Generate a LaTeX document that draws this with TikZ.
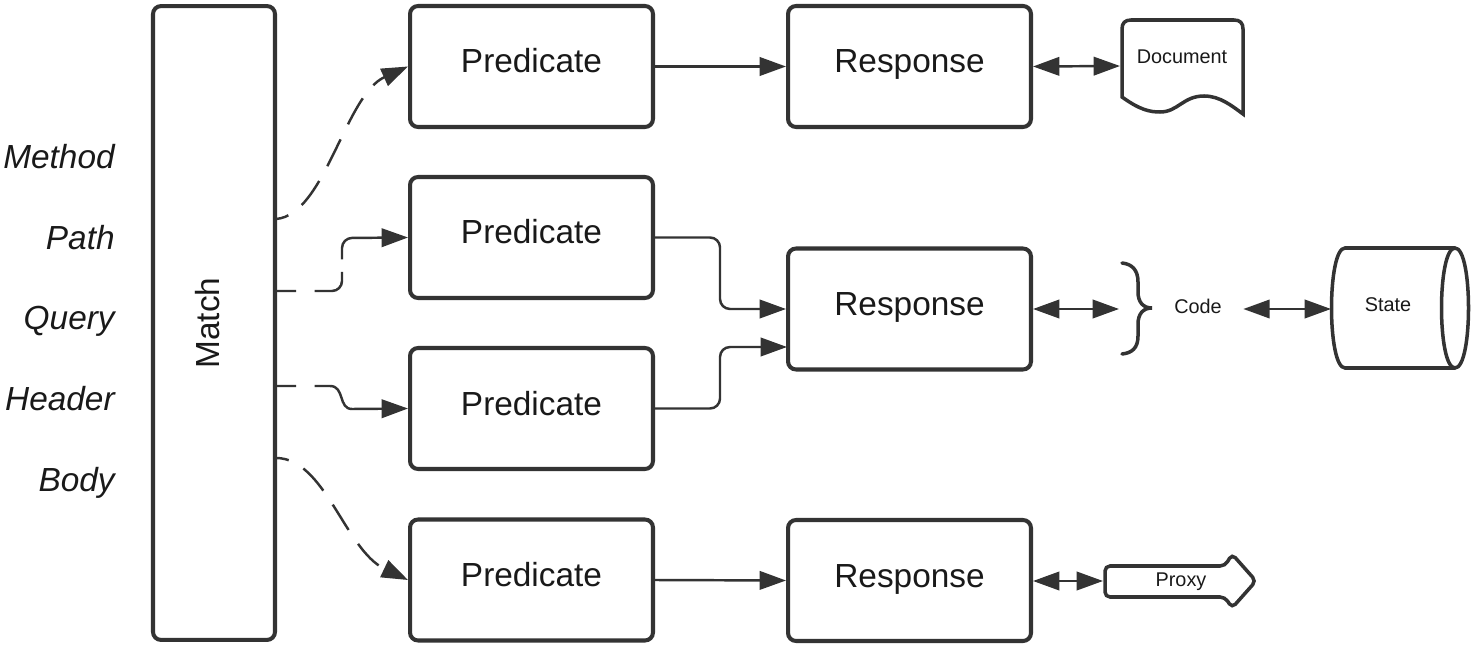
\documentclass[tikz,border=0pt]{standalone}
\usepackage{fontspec}
\setmainfont{Liberation Sans}
\usetikzlibrary{arrows.meta}
\definecolor{dark}{HTML}{333333}

\begin{document}
\begin{tikzpicture}[x=0.02cm, y=-0.02cm,
    box/.style={draw=dark, line width=2.3pt, rounded corners=0.16cm, text=black!90,
        minimum width=4.86cm, minimum height=2.42cm, inner sep=0pt,
        font=\fontsize{19}{22}\selectfont, text height=11pt, text depth=3.6pt},
    small/.style={text=black!90, inner sep=0pt, font=\fontsize{11.3}{13}\selectfont},
    side/.style={anchor=base east, inner sep=0pt, text=black!90,
        font=\fontsize{19}{22}\selectfont\itshape},
    outline/.style={draw=dark, line width=2pt},
    arr/.style={draw=dark, line width=1.4pt, -{Triangle[length=15pt, width=10.5pt]}},
    dbl/.style={draw=dark, line width=1.4pt, {Triangle[length=15pt, width=10.5pt]}-{Triangle[length=15pt, width=10.5pt]}},
    dash1/.style={dash pattern=on 17pt off 9.6pt, dash phase=9.6pt}]
    \useasboundingbox (0,0) rectangle (1476,648);

    % Left labels
    \foreach \lab/\ypos in {Method/169, Path/250, Query/329, Header/410, Body/491}
        \node[side] (\lab) at (115,\ypos) {\lab};

    % Match
    \node[box, minimum width=2.44cm, minimum height=12.68cm] (match) at (214,323) {};
    \node[rotate=90, inner sep=0pt, text=black!90, font=\fontsize{19}{22}\selectfont] (matchtext) at (208,323) {Match};

    % Predicates and responses
    \node[box] (pred1) at (531.5,66.5) {Predicate};
    \node[box] (pred2) at (531.5,237.5) {Predicate};
    \node[box] (pred3) at (531.5,408.5) {Predicate};
    \node[box] (pred4) at (531.5,580) {Predicate};
    \node[box] (resp1) at (909.5,66.5) {Response};
    \node[box] (resp2) at (909.5,309) {Response};
    \node[box] (resp4) at (909.5,580.5) {Response};

    % Free ends
    \coordinate (m1) at (276,219);
    \coordinate (m2) at (276,291);
    \coordinate (m3) at (276,386);
    \coordinate (m4) at (276,458);
    \coordinate (bend2) at (720,309);
    \coordinate (bend3) at (720,347);
    \coordinate (in3) at (787,347);
    \coordinate (docin) at (1120,66);
    \coordinate (bracein) at (1119,309);
    \coordinate (statein) at (1331,309);
    \coordinate (proxyin) at (1103,581);

    % Document
    \draw[outline] (1122,97) -- (1122,29) .. controls (1122,23) and (1125,20) .. (1131,20)
        -- (1234,20) .. controls (1240,20) and (1243,23) .. (1243,29) -- (1243,114)
        .. controls (1232,106) and (1220,96) .. (1204,96)
        .. controls (1183,96) and (1178,112) .. (1160,112)
        .. controls (1150,112) and (1140,110) .. (1122,97) -- cycle;
    \node[small] (doc) at (1182,57) {Document};

    % Brace and code
    \draw[outline, line cap=round] (1122,263) .. controls (1132,264) and (1138,270) .. (1138,282) -- (1138,292)
        .. controls (1138,302) and (1143,308) .. (1152,308)
        .. controls (1143,308) and (1138,314) .. (1138,324) -- (1138,336)
        .. controls (1138,348) and (1132,353) .. (1122,354);
    \node[small, minimum width=1.8cm] (code) at (1198,306) {Code};

    % State
    \draw[outline] (1345,248) -- (1455,248) .. controls (1473,248) and (1473,368) .. (1455,368)
        -- (1345,368) .. controls (1327,368) and (1327,248) .. (1345,248) -- cycle;
    \draw[outline] (1455,248) .. controls (1437,248) and (1437,368) .. (1455,368);
    \node[small] (state) at (1388,305) {State};

    % Proxy
    \draw[outline, rounded corners=0.1cm] (1105,597) -- (1105,566) -- (1225,566) -- (1232,554) -- (1256,581)
        -- (1232,608) -- (1225,597) -- cycle;
    \node[small] (proxy) at (1181,582) {Proxy};

    % Dashed connectors
    \draw[arr, dash1] (m1) .. controls (325,215) and (345,95) .. (pred1.west);
    \draw[arr, rounded corners=0.2cm, dash pattern=on 11.5pt off 10.5pt on 24pt off 7pt on 200pt]
        (m2) -- (342,291) -- (342,238) -- (pred2.west);
    \draw[arr, dash pattern=on 11.5pt off 10.5pt on 200pt]
        (m3) -- (330,386) .. controls (345,386) and (338,409) .. (352,409) -- (pred3.west);
    \draw[arr, dash1] (m4) .. controls (325,458) and (345,550) .. (pred4.west);

    % Solid connectors
    \draw[arr] (pred1.east) -- (resp1.west);
    \draw[arr, rounded corners=0.2cm] (pred2.east) -| (bend2) -- (resp2.west);
    \draw[arr, rounded corners=0.2cm] (pred3.east) -| (bend3) -- (in3);
    \draw[arr] (pred4.east) -- (resp4.west);
    \draw[dbl] (resp1.east) -- (docin);
    \draw[dbl] (resp2.east) -- (bracein);
    \draw[dbl] (code.east |- statein) -- (statein);
    \draw[dbl] (resp4.east |- proxyin) -- (proxyin);
\end{tikzpicture}
\end{document}
